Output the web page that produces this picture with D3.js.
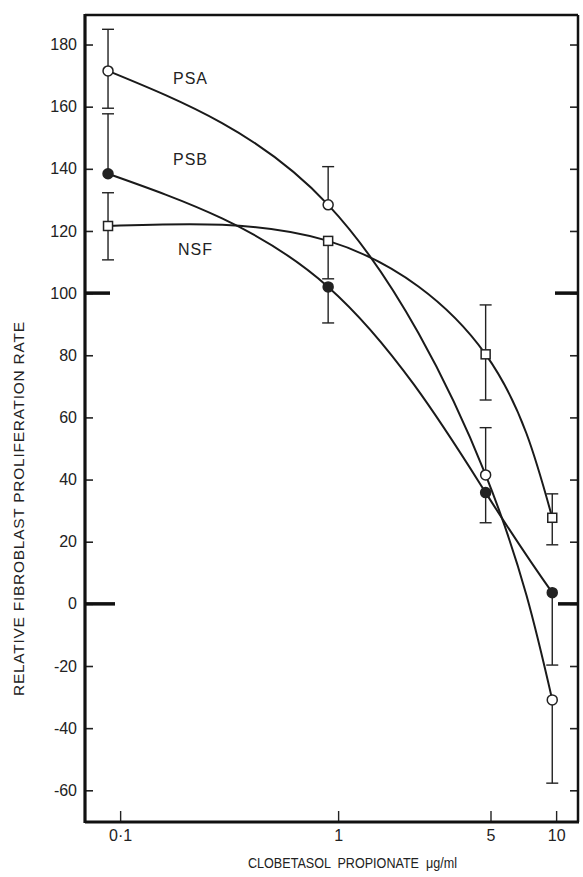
<!DOCTYPE html>
<html>
<head>
<meta charset="utf-8">
<script src="https://cdn.jsdelivr.net/npm/d3@7"></script>
<style>
  body { margin: 0; background: #fff; }
  text { font-family: "Liberation Sans", Arial, sans-serif; fill: #222; }
</style>
</head>
<body>
<svg id="chart" width="583" height="877"></svg>
<script>
// Doses where the points sit (ug/ml, log axis)
const doses = [0.088, 0.9, 4.75, 9.6];

// Series values and error bar ends (null = bar not drawn on that side)
const psa   = [171.5, 128.4, 41.5, -30.9];
const psaHi = [184.9, 140.7, 56.7, null];
const psaLo = [159.5, null, null, -57.7];

const psb   = [138.4, 102.0, 35.8, 3.6];
const psbHi = [157.7, null, null, null];
const psbLo = [null, 90.4, 26.1, -19.7];

const nsf   = [121.6, 116.8, 80.3, 27.7];
const nsfHi = [132.3, null, 96.2, 35.4];
const nsfLo = [110.7, 104.6, 65.6, 19.0];

// Axis ticks
const xTicks = [0.1, 1, 5, 10];
const xTickLabels = ["0·1", "1", "5", "10"];
const yTicks = [-60, -40, -20, 0, 20, 40, 60, 80, 100, 120, 140, 160, 180];
const yTickLabels = ["-60", "-40", "-20", "0", "20", "40", "60", "80", "100", "120", "140", "160", "180"];
const markLevels = [0, 100];

const svg = d3.select("#chart");
const pLeft = 85, pRight = 578, pTop = 15, pBottom = 822;

const x = d3.scaleLog().domain([0.069, 12.6]).range([pLeft, pRight]);
const y = d3.scaleLinear().domain([-70.2, 189.5]).range([pBottom, pTop]);

// left axis, ticks pointing inward
const yAxis = svg.append("g")
  .attr("transform", `translate(${pLeft},0)`)
  .call(d3.axisLeft(y).tickValues(yTicks).tickSize(-8).tickPadding(8)
    .tickFormat((d, i) => yTickLabels[i]));
yAxis.select(".domain").remove();
yAxis.selectAll("line").attr("stroke", "#222").attr("stroke-width", 1.6);
yAxis.selectAll("text").style("font-size", "16px").style("font-family", "Liberation Sans, Arial, sans-serif");

// right side inward ticks
const yAxisR = svg.append("g")
  .attr("transform", `translate(${pRight},0)`)
  .call(d3.axisRight(y).tickValues(yTicks).tickSize(-8).tickFormat(""));
yAxisR.select(".domain").remove();
yAxisR.selectAll("line").attr("stroke", "#222").attr("stroke-width", 1.6);

// bottom axis
const xAxis = svg.append("g")
  .attr("transform", `translate(0,${pBottom})`)
  .call(d3.axisBottom(x).tickValues(xTicks).tickSize(-11).tickPadding(8)
    .tickFormat((d, i) => xTickLabels[i]));
xAxis.select(".domain").remove();
xAxis.selectAll("line").attr("stroke", "#222").attr("stroke-width", 1.4);
xAxis.selectAll("text").style("font-size", "16px").style("font-family", "Liberation Sans, Arial, sans-serif");

// thick marks at 0 and 100 on both sides
svg.selectAll(".markL").data(markLevels).enter().append("line")
  .attr("x1", pLeft).attr("x2", (d) => d === 0 ? pLeft + 30 : pLeft + 25)
  .attr("y1", y).attr("y2", y)
  .attr("stroke", "#111").attr("stroke-width", 3.5);
svg.selectAll(".markR").data(markLevels).enter().append("line")
  .attr("x1", pRight).attr("x2", (d) => d === 0 ? pRight - 20 : pRight - 23)
  .attr("y1", y).attr("y2", y)
  .attr("stroke", "#111").attr("stroke-width", 3.5);

// frame
svg.append("line").attr("x1", pLeft).attr("x2", pRight).attr("y1", pTop).attr("y2", pTop)
  .attr("stroke", "#111").attr("stroke-width", 2.5);
svg.append("line").attr("x1", pRight).attr("x2", pRight).attr("y1", pTop).attr("y2", pBottom)
  .attr("stroke", "#111").attr("stroke-width", 2.5);
svg.append("line").attr("x1", pLeft).attr("x2", pLeft).attr("y1", pTop - 1).attr("y2", pBottom + 1)
  .attr("stroke", "#111").attr("stroke-width", 3.2);
svg.append("line").attr("x1", pLeft).attr("x2", pRight + 1).attr("y1", pBottom).attr("y2", pBottom)
  .attr("stroke", "#111").attr("stroke-width", 3);

const series = [
  { name: "PSA", vals: psa, hi: psaHi, lo: psaLo, shape: "open" },
  { name: "PSB", vals: psb, hi: psbHi, lo: psbLo, shape: "filled" },
  { name: "NSF", vals: nsf, hi: nsfHi, lo: nsfLo, shape: "square" }
];

const line = d3.line()
  .x((d) => x(d[0]))
  .y((d) => y(d[1]))
  .curve(d3.curveNatural);

// error bars
series.forEach((s) => {
  const g = svg.append("g").attr("stroke", "#222").attr("stroke-width", 1.4);
  doses.forEach((dose, i) => {
    [s.hi[i], s.lo[i]].forEach((end) => {
      if (end === null) return;
      g.append("line")
        .attr("x1", x(dose)).attr("x2", x(dose))
        .attr("y1", y(s.vals[i])).attr("y2", y(end));
      g.append("line")
        .attr("x1", x(dose) - 6).attr("x2", x(dose) + 6)
        .attr("y1", y(end)).attr("y2", y(end));
    });
  });
});

// curves
series.forEach((s) => {
  svg.append("path")
    .datum(doses.map((d, i) => [d, s.vals[i]]))
    .attr("d", line)
    .attr("fill", "none")
    .attr("stroke", "#1a1a1a")
    .attr("stroke-width", 2);
});

// markers
series.forEach((s) => {
  const pts = doses.map((d, i) => [d, s.vals[i]]);
  if (s.shape === "square") {
    svg.selectAll(null).data(pts).enter().append("rect")
      .attr("x", (d) => x(d[0]) - 4.5).attr("y", (d) => y(d[1]) - 4.5)
      .attr("width", 9).attr("height", 9)
      .attr("fill", "#fff").attr("stroke", "#222").attr("stroke-width", 1.5);
  } else {
    svg.selectAll(null).data(pts).enter().append("circle")
      .attr("cx", (d) => x(d[0])).attr("cy", (d) => y(d[1]))
      .attr("r", 5)
      .attr("fill", s.shape === "open" ? "#fff" : "#222")
      .attr("stroke", "#222").attr("stroke-width", 1.5);
  }
});

// series labels
const seriesLabels = [
  { text: "PSA", px: 173, py: 84 },
  { text: "PSB", px: 173, py: 165 },
  { text: "NSF", px: 178, py: 255 }
];
svg.selectAll(".slab").data(seriesLabels).enter().append("text")
  .attr("x", (d) => d.px).attr("y", (d) => d.py)
  .attr("font-size", 16).attr("letter-spacing", 1)
  .text((d) => d.text);

// axis titles
svg.append("text")
  .attr("x", 248).attr("y", 868)
  .attr("font-size", 14)
  .attr("textLength", 209).attr("lengthAdjust", "spacingAndGlyphs")
  .style("white-space", "pre")
  .text("CLOBETASOL  PROPIONATE  μg/ml");

svg.append("text")
  .attr("transform", "translate(24,696) rotate(-90)")
  .attr("font-size", 15.5)
  .attr("textLength", 374).attr("lengthAdjust", "spacing")
  .text("RELATIVE FIBROBLAST PROLIFERATION RATE");
</script>
</body>
</html>
